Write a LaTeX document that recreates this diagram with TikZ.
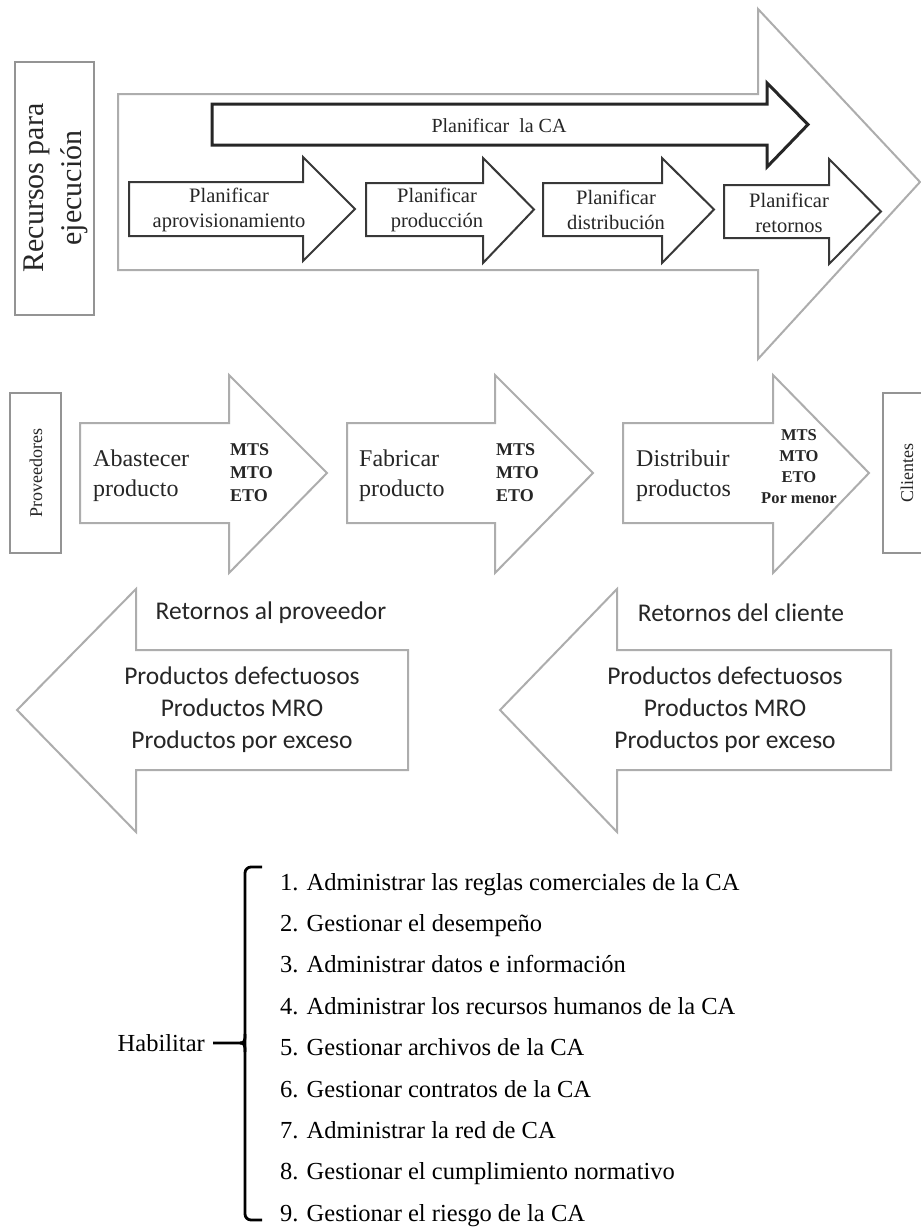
\documentclass[tikz,border=0pt]{standalone}
\usepackage{fontspec}
\setmainfont{Liberation Serif}
\newfontfamily\calibrifont{Carlito}

\definecolor{lightline}{gray}{0.68}
\definecolor{planline}{gray}{0.22}
\definecolor{boxline}{gray}{0.58}
\definecolor{inkgray}{gray}{0.15}

% block arrow: style, tail x, body top, body bottom, head base x, head top, head bottom, tip x
\newcommand\blockarrow[8]{%
  \draw[#1] (#2,#3) -- (#5,#3) -- (#5,#6) -- (#8,{(#3+#4)/2}) -- (#5,#7) -- (#5,#4) -- (#2,#4) -- cycle;%
}

\tikzset{
  outerarrow/.style={draw=lightline, line width=2pt, fill=white},
  flowarrow/.style={draw=lightline, line width=2pt, fill=white},
  planarrow/.style={draw=planline, line width=2pt, fill=white},
  maintask/.style={draw=black!85, line width=3pt, fill=white},
  sidebox/.style={draw=boxline, line width=2.5pt},
  txt/.style={inner sep=0pt, align=center, text=inkgray},
  plantxt/.style={txt, font=\fontsize{20.5}{25}\selectfont},
  flowtxt/.style={txt, align=left, anchor=west, font=\fontsize{24}{30}\selectfont},
  codes/.style={txt, font=\bfseries\fontsize{18}{23}\selectfont},
  rettxt/.style={txt, font=\calibrifont\fontsize{25.5}{32}\selectfont},
  listtxt/.style={inner sep=0pt, anchor=base west, text=black, font=\fontsize{24.5}{28}\selectfont},
}

\begin{document}
\begin{tikzpicture}[x=1pt, y=-1pt]
\useasboundingbox (0,0) rectangle (921,1229);

% ---- planning block ----
\draw[sidebox] (15,62) rectangle (94,315);
\node[txt, rotate=90, font=\fontsize{30}{38}\selectfont] (recursos) at (56,188) {Recursos para\\ejecución};

\blockarrow{outerarrow}{118}{94}{270}{758}{9}{359}{920}
\blockarrow{maintask}{212}{104}{145}{767}{83}{167}{808}
\node[txt, font=\fontsize{20}{24}\selectfont] (planca) at (499,126) {Planificar\ \ la CA};

\blockarrow{planarrow}{129}{182}{236}{303}{157}{261}{355}
\blockarrow{planarrow}{366}{183}{236}{483}{158}{263}{534}
\blockarrow{planarrow}{543}{183}{236}{662}{158}{263}{714}
\blockarrow{planarrow}{724}{185}{238}{829}{159}{264}{881}
\node[plantxt] (pa) at (229,210) {Planificar\\aprovisionamiento};
\node[plantxt] (pp) at (437,210) {Planificar\\producción};
\node[plantxt] (pd) at (616,210) {Planificar\\distribución};
\node[plantxt] (pr) at (789,213) {Planificar\\retornos};

% ---- execution flow ----
\draw[sidebox, line width=2pt] (10,393) rectangle (61,553);
\node[txt, rotate=90, font=\fontsize{18}{22}\selectfont] (prov) at (36,473) {Proveedores};
\draw[sidebox, line width=2pt] (883,393) rectangle (930,553);
\node[txt, rotate=90, font=\fontsize{18}{22}\selectfont] (cli) at (907,473) {Clientes};

\blockarrow{flowarrow}{80}{423}{523}{229}{375}{573}{327}
\blockarrow{flowarrow}{347}{423}{523}{495}{375}{573}{593}
\blockarrow{flowarrow}{623}{423}{523}{773}{375}{573}{869}

\node[flowtxt] (abas) at (93,476) {Abastecer\\producto};
\node[codes, anchor=west, align=left] (abascodes) at (230,473) {MTS\\MTO\\ETO};
\node[flowtxt] (fab) at (359,476) {Fabricar\\producto};
\node[codes, anchor=west, align=left] (fabcodes) at (496,473) {MTS\\MTO\\ETO};
\node[flowtxt] (dist) at (636,476) {Distribuir\\productos};
\node[codes, font=\bfseries\fontsize{16.5}{21}\selectfont] (distcodes) at (799,467) {MTS\\MTO\\ETO\\Por menor};

% ---- returns ----
\blockarrow{flowarrow}{408}{650}{770}{136}{589}{832}{17}
\blockarrow{flowarrow}{891}{650}{770}{617}{589}{832}{500}
\node[rettxt] (retprov) at (271,613) {Retornos al proveedor};
\node[rettxt] (retprovlist) at (242,710) {Productos defectuosos\\Productos MRO\\Productos por exceso};
\node[rettxt] (retcli) at (741,613) {Retornos del cliente};
\node[rettxt] (retclilist) at (725,710) {Productos defectuosos\\Productos MRO\\Productos por exceso};

% ---- enabling processes ----
\node[inner sep=0pt, anchor=base east, font=\fontsize{24.5}{28}\selectfont] (habilitar) at (205,1051) {Habilitar};
\coordinate (btop) at (262,867);
\coordinate (bbot) at (262,1220);
\coordinate (bnub) at (213,1043);
\draw[line width=2.8pt, rounded corners=6pt] (btop) -- (245,867) -- (245,1220) -- (bbot);
\draw[line width=2.8pt] (bnub) -- (240,1043) .. controls (245,1043) and (245,1040) .. (245,1034);
\draw[line width=2.8pt] (240,1043) .. controls (245,1043) and (245,1046) .. (245,1052);

\foreach \txt [count=\i] in {%
  {1. Administrar las reglas comerciales de la CA},
  {2. Gestionar el desempeño},
  {3. Administrar datos e información},
  {4. Administrar los recursos humanos de la CA},
  {5. Gestionar archivos de la CA},
  {6. Gestionar contratos de la CA},
  {7. Administrar la red de CA},
  {8. Gestionar el cumplimiento normativo},
  {9. Gestionar el riesgo de la CA}}
  \node[listtxt] (item\i) at (280,{890+41.4*(\i-1)}) {\txt};
\end{tikzpicture}
\end{document}
